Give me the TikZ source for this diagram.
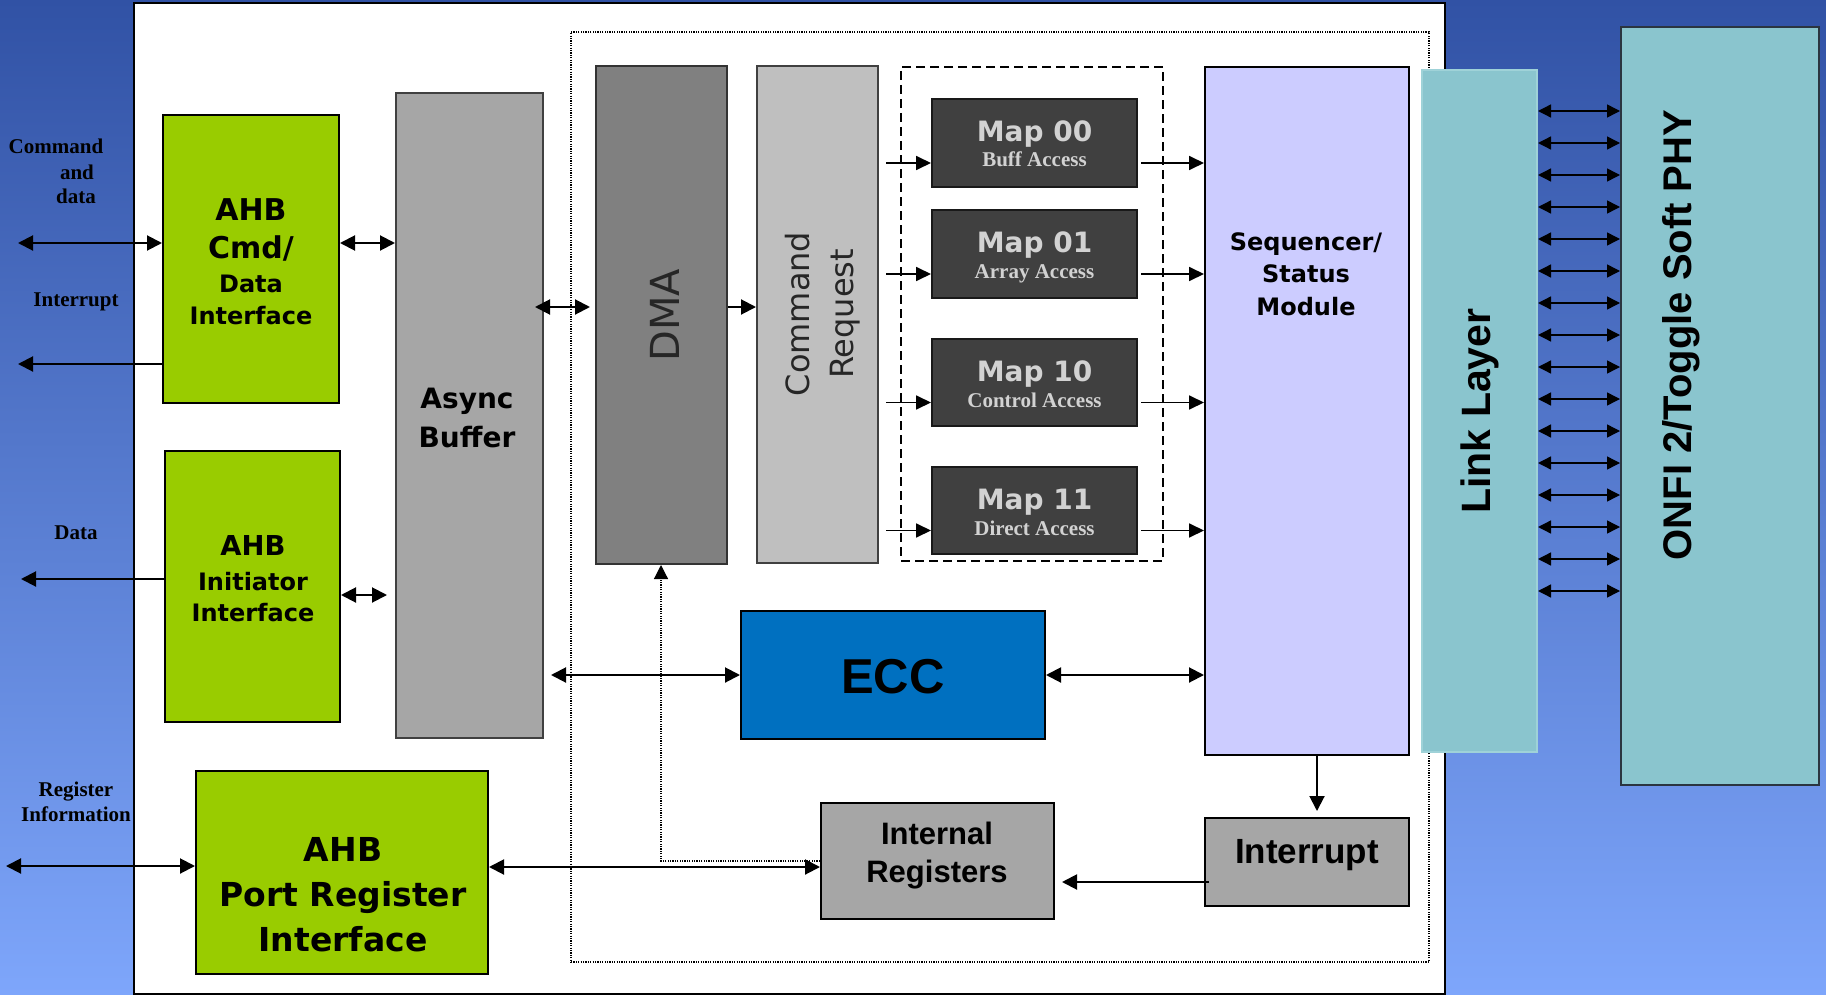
\documentclass[tikz,border=0pt]{standalone}
\usepackage{fontspec}
\setmainfont{Liberation Serif}
\newfontfamily\verd{DejaVu Sans}
\newfontfamily\ari{Liberation Sans}
\usetikzlibrary{arrows.meta,fit,calc}

\definecolor{bgtop}{HTML}{3152A5}
\definecolor{bgbot}{HTML}{7EA6FB}
\definecolor{agreen}{HTML}{99CC00}
\definecolor{agray}{HTML}{A6A6A6}
\definecolor{dmagray}{HTML}{808080}
\definecolor{reqgray}{HTML}{BFBFBF}
\definecolor{mapfill}{HTML}{404040}
\definecolor{maptext}{HTML}{D2D2D2}
\definecolor{seqfill}{HTML}{CCCCFF}
\definecolor{eccblue}{HTML}{0070C0}
\definecolor{teal}{HTML}{8AC5CE}
\definecolor{tealedge}{HTML}{9FD2D8}
\definecolor{phyedge}{HTML}{2B3540}
\definecolor{rottext}{HTML}{262626}

\tikzset{
  blk/.style={inner sep=0pt, draw=black, line width=1pt},
  txt/.style={inner sep=0pt},
  lab/.style={inner sep=0pt, anchor=base, font=\bfseries\fontsize{10.5}{12}\selectfont},
  arr/.style={line width=1pt, -{Triangle[length=7.5pt,width=7.5pt]}},
  dbl/.style={line width=1pt, {Triangle[length=7.5pt,width=7.5pt]}-{Triangle[length=7.5pt,width=7.5pt]}},
  marr/.style={line width=0.9pt, -{Triangle[length=7.5pt,width=7pt]}},
  bus/.style={line width=0.7pt, {Triangle[length=6.5pt,width=6.5pt]}-{Triangle[length=6.5pt,width=6.5pt]}},
  maphead/.style={txt, anchor=base, text=maptext, font=\verd\bfseries\fontsize{14}{17}\selectfont},
  mapsub/.style={txt, anchor=base, text=maptext, font=\bfseries\fontsize{10.5}{12}\selectfont},
}

\begin{document}
\begin{tikzpicture}[x=0.5pt,y=-0.5pt]
\useasboundingbox (0,0) rectangle (1826,995);
\shade[top color=bgtop,bottom color=bgbot] (0,0) rectangle (1826,995);

% controller panel and core boundary
\node[fit={(134,3) (1445,994)}, inner sep=0pt, draw=black, fill=white, line width=1pt] (panel) {};
\node[fit={(571,32) (1429,962)}, inner sep=0pt, draw=black, line width=0.6pt, dash pattern=on 0.6pt off 0.6pt] (core) {};

% AHB side
\node[blk, fill=agreen, fit={(163,115) (339,403)}] (ahbcmd) {};
\node[blk, fill=agreen, fit={(165,451) (340,722)}] (ahbinit) {};
\node[blk, fill=agreen, fit={(196,771) (488,974)}] (ahbport) {};
\node[blk, fill=agray, draw=black!75, fit={(396,93) (543,738)}] (async) {};

% core blocks
\node[blk, fill=dmagray, draw=black!80, fit={(596,66) (727,564)}] (dma) {};
\node[blk, fill=reqgray, draw=black!75, fit={(757,66) (878,563)}] (cmdreq) {};
\node[fit={(901,67) (1163,561)}, inner sep=0pt, draw=black, line width=0.75pt, dash pattern=on 4.5pt off 2.5pt] (mapgrp) {};
\node[blk, fill=mapfill, draw=black!90, fit={(932,99) (1137,187)}] (m00) {};
\node[blk, fill=mapfill, draw=black!90, fit={(932,210) (1137,298)}] (m01) {};
\node[blk, fill=mapfill, draw=black!90, fit={(932,339) (1137,426)}] (m10) {};
\node[blk, fill=mapfill, draw=black!90, fit={(932,467) (1137,554)}] (m11) {};
\node[blk, fill=seqfill, fit={(1205,67) (1409,755)}] (seq) {};
\node[blk, fill=agray, fit={(1205,818) (1409,906)}] (intr) {};
\node[blk, fill=agray, fit={(821,803) (1054,919)}] (intreg) {};
\node[blk, fill=eccblue, fit={(741,611) (1045,739)}] (ecc) {};

% physical side
\node[fit={(1422,70) (1537,752)}, inner sep=0pt, fill=teal, draw=tealedge, line width=1pt] (link) {};
\node[blk, fill=teal, draw=phyedge, fit={(1621,27) (1819,785)}] (onfi) {};

% block texts
\node[txt, align=center, font=\verd\bfseries\fontsize{12}{16}\selectfont] (ahbcmdT) at (251,262)
  {{\fontsize{15}{19}\selectfont AHB}\\[3pt]{\fontsize{15}{19}\selectfont Cmd/}\\[1pt]Data\\Interface};
\node[txt, align=center, font=\verd\bfseries\fontsize{12}{15.5}\selectfont] (ahbinitT) at (253,579)
  {{\fontsize{13.7}{17}\selectfont AHB}\\[2pt]Initiator\\Interface};
\node[txt, align=center, font=\verd\bfseries\fontsize{16.5}{22.5}\selectfont] (ahbportT) at (343,895)
  {AHB\\Port Register\\Interface};
\node[txt, align=center, font=\verd\bfseries\fontsize{14}{19.5}\selectfont] (asyncT) at (467,418) {Async\\Buffer};
\node[txt, rotate=90, anchor=base, text=rottext, font=\verd\fontsize{20}{24}\selectfont] (dmaT) at (679,315) {DMA};
\node[txt, rotate=90, align=center, text=rottext, font=\verd\fontsize{16}{22}\selectfont] (cmdreqT) at (823,314) {Command\\Request};
\node[txt, align=center, font=\verd\bfseries\fontsize{12}{16.25}\selectfont] (seqT) at (1306,274) {Sequencer/\\Status\\Module};
\node[txt, anchor=base, font=\ari\bfseries\fontsize{17.5}{20}\selectfont] (intrT) at (1307,863) {Interrupt};
\node[txt, align=center, font=\ari\bfseries\fontsize{15.5}{19}\selectfont] (intregT) at (937,856) {Internal\\Registers};
\node[txt, anchor=base, font=\ari\bfseries\fontsize{24.5}{28}\selectfont] (eccT) at (893,693) {ECC};
\node[txt, rotate=90, anchor=base, font=\ari\bfseries\fontsize{20.5}{24}\selectfont] (linkT) at (1490,411) {Link Layer};
\node[txt, rotate=90, anchor=base, font=\ari\bfseries\fontsize{20}{24}\selectfont] (onfiT) at (1691,335) {ONFI 2/Toggle Soft PHY};

% address map texts
\node[maphead] (m00a) at ($(m00.north)+(0,43)$) {Map 00};
\node[mapsub]  (m00b) at ($(m00.north)+(0,69)$) {Buff Access};
\node[maphead] (m01a) at ($(m01.north)+(0,43)$) {Map 01};
\node[mapsub]  (m01b) at ($(m01.north)+(0,69)$) {Array Access};
\node[maphead] (m10a) at ($(m10.north)+(0,43)$) {Map 10};
\node[mapsub]  (m10b) at ($(m10.north)+(0,69)$) {Control Access};
\node[maphead] (m11a) at ($(m11.north)+(0,43)$) {Map 11};
\node[mapsub]  (m11b) at ($(m11.north)+(0,69)$) {Direct Access};

% external signal labels
\node[lab] (lcmd)  at (56,154) {Command};
\node[lab] (land)  at (77,179) {and};
\node[lab] (ldata) at (76,204) {data};
\node[lab] (lint)  at (76,306) {Interrupt};
\node[lab] (ldat2) at (76,539) {Data};
\node[lab] (lreg)  at (76,796) {Register};
\node[lab] (linfo) at (76,821) {Information};

% external ends and routing points
\coordinate (cmdExt)  at (18,243);
\coordinate (intExt)  at (18,364);
\coordinate (dataExt) at (21,579);
\coordinate (regExt)  at (6,866);
\coordinate (yInit)   at (0,595);
\coordinate (yDma)    at (0,307);
\coordinate (yEcc)    at (0,675);
\coordinate (yReg)    at (0,867);
\coordinate (yIrq)    at (0,882);
\coordinate (xIrq)    at (1317,0);
\coordinate (dmaTap)  at (661,861);

% AHB connections
\draw[dbl] (cmdExt) -- (ahbcmd.west |- cmdExt);
\draw[arr] (ahbcmd.west |- intExt) -- (intExt);
\draw[dbl] (ahbcmd.east |- cmdExt) -- (async.west |- cmdExt);
\draw[arr] (ahbinit.west |- dataExt) -- (dataExt);
\draw[dbl, shorten >=4pt] (ahbinit.east |- yInit) -- (async.west |- yInit);
\draw[dbl] (regExt) -- (ahbport.west |- regExt);
\draw[dbl] (ahbport.east |- yReg) -- (intreg.west |- yReg);

% core data path
\draw[dbl, shorten <=-4.5pt, shorten >=2.5pt] (async.east |- yDma) -- (dma.west |- yDma);
\draw[arr] (dma.east |- yDma) -- (cmdreq.west |- yDma);
\foreach \m in {m00,m01,m10,m11}{
  \draw[marr] ($(cmdreq.east |- \m.west)+(7,20)$) -- ($(\m.west)+(0,20)$);
  \draw[marr] ($(\m.east)+(3,20)$) -- ($(seq.west |- \m.east)+(0,20)$);
}
\draw[dbl, shorten <=3.5pt] (async.east |- yEcc) -- (ecc.west);
\draw[dbl] (ecc.east) -- (seq.west |- ecc.east);
\draw[arr, shorten >=3pt] (seq.south -| xIrq) -- (intr.north -| xIrq);
\draw[arr, shorten <=-2.5pt, shorten >=3.5pt] (intr.west |- yIrq) -- (intreg.east |- yIrq);
\draw[line width=0.6pt, dash pattern=on 0.6pt off 0.6pt, -{Triangle[length=7pt,width=7pt]}]
  (intreg.west |- dmaTap) -- (dmaTap) -- (dma.south -| dmaTap);

% link layer to PHY pins
\foreach \i in {0,...,15}{
  \coordinate (pin\i) at (1580,{111+32*\i});
  \draw[bus] (link.east |- pin\i) -- (onfi.west |- pin\i);
}
\end{tikzpicture}
\end{document}
